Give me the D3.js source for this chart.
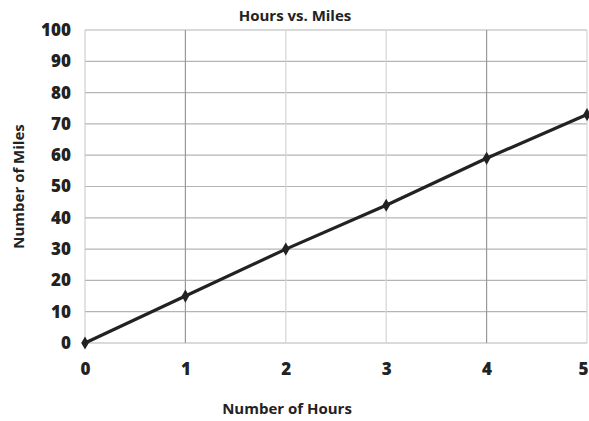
<!DOCTYPE html>
<html>
<head>
<meta charset="utf-8">
<script src="https://cdn.jsdelivr.net/npm/d3@7"></script>
<style>
  body { margin: 0; background: #fff; }
  svg { display: block; }
  text { font-family: "Open Sans", Lato, sans-serif; font-weight: bold; fill: #222; }
</style>
</head>
<body>
<svg width="589" height="421"></svg>
<script>
var hours = [0, 1, 2, 3, 4, 5];
var miles = [0, 15, 30, 44, 59, 73];
var yTicks = [0, 10, 20, 30, 40, 50, 60, 70, 80, 90, 100];

var svg = d3.select("svg"),
    margin = {top: 30, right: 2, bottom: 78, left: 85},
    width = +svg.attr("width") - margin.left - margin.right,
    height = +svg.attr("height") - margin.top - margin.bottom;

var x = d3.scaleLinear().domain([0, 5]).range([0, width]);
var y = d3.scaleLinear().domain([0, 100]).range([height, 0]);

var g = svg.append("g")
    .attr("transform", "translate(" + margin.left + "," + margin.top + ")");

// grid
g.append("g")
  .selectAll("line")
  .data(yTicks)
  .enter().append("line")
    .attr("x1", 0).attr("x2", width)
    .attr("y1", function(d) { return y(d); })
    .attr("y2", function(d) { return y(d); })
    .attr("stroke", "#b5b5b5")
    .attr("stroke-width", 1.2);

g.append("g")
  .selectAll("line")
  .data(hours.slice(1))
  .enter().append("line")
    .attr("x1", function(d) { return x(d); })
    .attr("x2", function(d) { return x(d); })
    .attr("y1", 0).attr("y2", height)
    .attr("stroke", function(d) { return (d == 1 || d == 4) ? "#999" : "#d5d5d5"; })
    .attr("stroke-width", 1.2);

g.append("line")
    .attr("x1", 0).attr("x2", 0)
    .attr("y1", 0).attr("y2", height)
    .attr("stroke", "#c5c5c5");

// axes
var yAxis = g.append("g")
    .call(d3.axisLeft(y).tickValues(yTicks).tickSize(0).tickPadding(14));
yAxis.select(".domain").remove();
yAxis.selectAll("text").style("font-size", "17px").style("font-weight", "800");

var xAxis = g.append("g")
    .attr("transform", "translate(0," + height + ")")
    .call(d3.axisBottom(x).tickValues(hours).tickFormat(d3.format("d")).tickSize(0).tickPadding(20));
xAxis.select(".domain").remove();
xAxis.selectAll("text").style("font-size", "17px").style("font-weight", "800")
    .attr("dx", function(d) { return d == 5 ? -4 : 0; });

// line
var line = d3.line()
    .x(function(d, i) { return x(hours[i]); })
    .y(function(d) { return y(d); });

g.append("path")
    .datum(miles)
    .attr("fill", "none")
    .attr("stroke", "#222")
    .attr("stroke-width", 3.2)
    .attr("d", line);

g.append("g")
  .selectAll("path")
  .data(miles)
  .enter().append("path")
    .attr("d", d3.symbol().type(d3.symbolDiamond).size(50))
    .attr("transform", function(d, i) { return "translate(" + x(hours[i]) + "," + y(d) + ")"; })
    .attr("fill", "#222");

// titles
svg.append("text")
    .attr("x", 295).attr("y", 21)
    .attr("text-anchor", "middle")
    .style("font-size", "15px")
    .text("Hours vs. Miles");

svg.append("text")
    .attr("x", 287).attr("y", 414)
    .attr("text-anchor", "middle")
    .style("font-size", "15px")
    .text("Number of Hours");

svg.append("text")
    .attr("transform", "translate(24," + (margin.top + height / 2) + ") rotate(-90)")
    .attr("text-anchor", "middle")
    .style("font-size", "15px")
    .text("Number of Miles");
</script>
</body>
</html>
